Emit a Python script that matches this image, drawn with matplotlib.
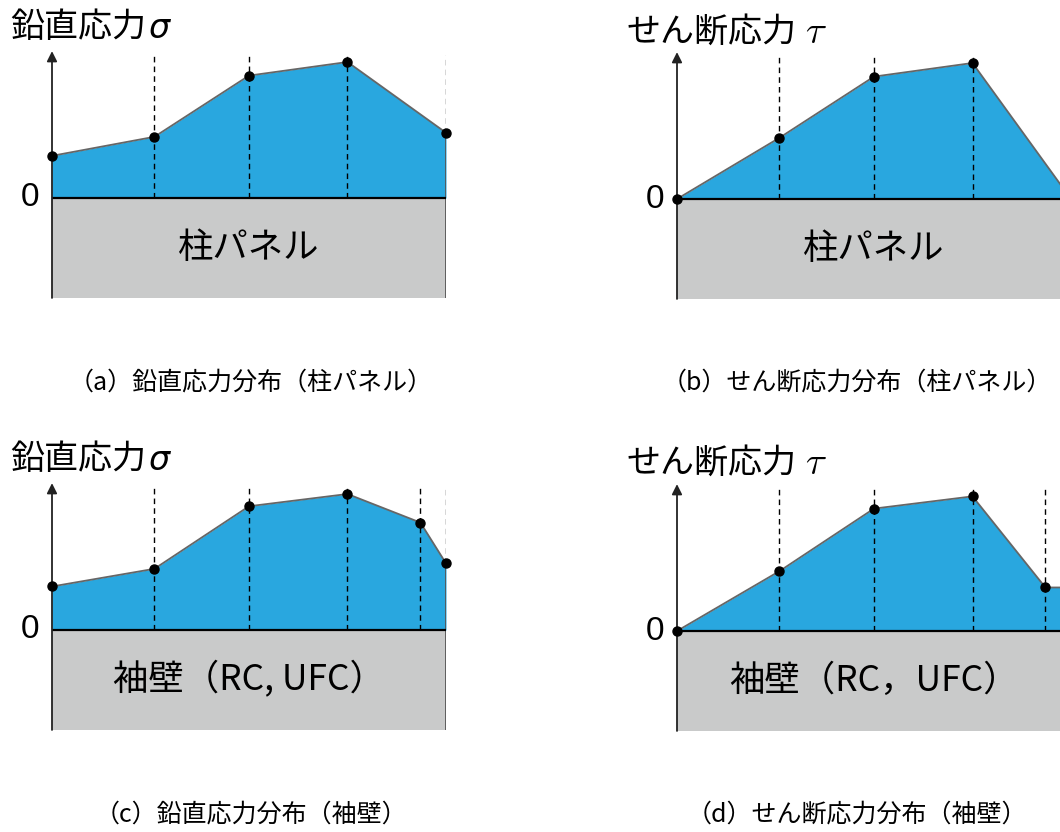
import matplotlib.pyplot as plt

plt.rcParams['font.family'] = ['Noto Sans CJK JP', 'DejaVu Sans']

W, H = 1060, 832

# 断面位置（0〜1）と応力値（最大値 = 1 に正規化）
x_col = [0.0, 0.26, 0.50, 0.75, 1.0]
x_wall = [0.0, 0.26, 0.50, 0.75, 0.935, 1.0]
sigma_col = [0.31, 0.45, 0.90, 1.00, 0.48]
tau_col = [0.0, 0.45, 0.90, 1.00, 0.0]
sigma_wall = [0.32, 0.45, 0.91, 1.00, 0.79, 0.49]
tau_wall = [0.0, 0.44, 0.90, 0.99, 0.32, 0.32]

title_sigma = "鉛直応力"
title_tau = "せん断応力"
label_col = "柱パネル"
label_wall_a = "袖壁（RC, UFC）"
label_wall_b = "袖壁（RC，UFC）"
captions = ["（a）鉛直応力分布（柱パネル）", "（b）せん断応力分布（柱パネル）",
            "（c）鉛直応力分布（袖壁）", "（d）せん断応力分布（袖壁）"]

PX_X = 394     # 横 1 単位あたりの px
PX_Y = 136     # 縦 1 単位あたりの px
DEPTH = 0.735  # 灰色部分の深さ
TOP = 1.17
DASH_TOP = 1.05

BLUE = '#29a7df'
GRAY = '#c9caca'

fig = plt.figure(figsize=(W / 100, H / 100), dpi=100)


def panel(left, zero, xs, vals, label):
    ax = fig.add_axes([left / W, (H - zero - DEPTH * PX_Y) / H,
                       PX_X / W, (DEPTH + TOP) * PX_Y / H])
    ax.set_xlim(0, 1)
    ax.set_ylim(-DEPTH, TOP)
    ax.axis('off')

    ax.fill_between([0, 1], -DEPTH, 0, color=GRAY, lw=0, zorder=1)
    ax.fill_between(xs, 0, vals, color=BLUE, lw=0, zorder=2)
    ax.plot(xs, vals, color='#666666', lw=1.3, zorder=3)
    ax.plot([1, 1], [-DEPTH, vals[-1]], color='#555555', lw=1.3, zorder=3)

    for x in xs[1:-1]:
        ax.plot([x, x], [0, DASH_TOP], color='black', lw=1, ls=(0, (4, 3)), zorder=4)
    ax.plot([xs[-1]] * 2, [vals[-1], DASH_TOP], color='#333333', lw=1,
            ls=(0, (4, 3)), zorder=4)

    ax.plot([0, 1], [0, 0], color='black', lw=1.6, zorder=5)
    ax.annotate('', xy=(0, 1.08), xytext=(0, -DEPTH),
                arrowprops=dict(arrowstyle='-|>', color='#222222', lw=1.3,
                                mutation_scale=15, shrinkA=0, shrinkB=0),
                zorder=5)
    ax.plot(xs, vals, 'o', color='black', ms=6.5, zorder=6, clip_on=False)

    ax.text(0.5, -DEPTH / 2, label, ha='center', va='center', fontsize=25.5)
    ax.text(-0.055, 0, '0', ha='center', va='center', fontsize=24,
            family='Liberation Sans')
    return ax


def title(ax, x, y, s, sym, math=False, gap=3):
    t = fig.text(x / W, 1 - y / H, s, ha='left', va='center', fontsize=24.5)
    if math:
        ax.annotate(sym, xy=(1, 0.5), xycoords=t, xytext=(gap, 0),
                    textcoords='offset points', ha='left', va='center',
                    fontsize=28, math_fontfamily='cm', annotation_clip=False)
    else:
        ax.annotate(sym, xy=(1, 0.5), xycoords=t, xytext=(gap, 0),
                    textcoords='offset points', ha='left', va='center',
                    fontsize=24, style='italic', family='DejaVu Sans',
                    annotation_clip=False)


ax_a = panel(52, 198, x_col, sigma_col, label_col)
ax_b = panel(677, 199, x_col, tau_col, label_col)
ax_c = panel(52, 630, x_wall, sigma_wall, label_wall_a)
ax_d = panel(677, 631, x_wall, tau_wall, label_wall_b)

title(ax_a, 10, 28, title_sigma, 'σ', gap=2)
title(ax_b, 627, 32, title_tau, r'$\tau$', math=True, gap=6)
title(ax_c, 10, 460, title_sigma, 'σ', gap=2)
title(ax_d, 627, 463, title_tau, r'$\tau$', math=True, gap=6)

fig.text(251 / W, 1 - 383 / H, captions[0], ha='center', va='center', fontsize=18)
fig.text(857 / W, 1 - 383 / H, captions[1], ha='center', va='center', fontsize=18)
fig.text(251 / W, 1 - 815 / H, captions[2], ha='center', va='center', fontsize=18)
fig.text(857 / W, 1 - 815 / H, captions[3], ha='center', va='center', fontsize=18)

fig.savefig('out.png', dpi=100)
